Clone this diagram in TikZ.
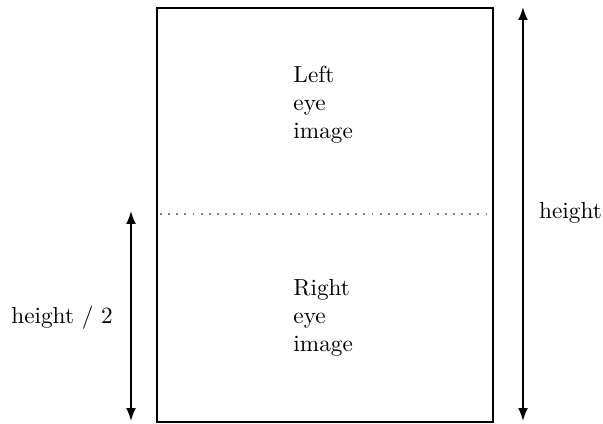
\documentclass[tikz,border=0pt]{standalone}
\usepackage{tikz}
\usetikzlibrary{arrows.meta,positioning}

\begin{document}
\begin{tikzpicture}[x=0.43pt,y=-0.43pt,font=\normalsize,
  frame/.style={draw=black,line width=1pt},
  lbl/.style={align=left,inner sep=0pt},
  dim/.style={{Latex[length=5.5pt,width=4.2pt]}-{Latex[length=5.5pt,width=4.2pt]},line width=0.8pt},
  split/.style={draw=gray,line width=0.8pt,dash pattern=on 0.8pt off 2.7pt}]
\useasboundingbox (0,0) rectangle (603,423);
% the stacked frame
\coordinate (tl) at (157,8);
\coordinate (br) at (493,422);
\draw[frame] (tl) rectangle (br);
\coordinate (ml) at (160,214);
\coordinate (mr) at (491,214);
\draw[split] (ml) -- (mr);
\node[lbl,anchor=west] (left) at (293,105) {Left\\eye\\image};
\node[lbl,anchor=west] (right) at (293,318) {Right\\eye\\image};
% full and half height
\coordinate (htop) at (523,7);
\coordinate (hbot) at (523,421);
\draw[dim] (htop) -- (hbot);
\node[anchor=west] (h) at (531,213) {height};
\coordinate (htop2) at (131,211);
\coordinate (hbot2) at (131,421);
\draw[dim] (htop2) -- (hbot2);
\node[anchor=east] (h2) at (121,318) {height / 2};
\end{tikzpicture}
\end{document}
